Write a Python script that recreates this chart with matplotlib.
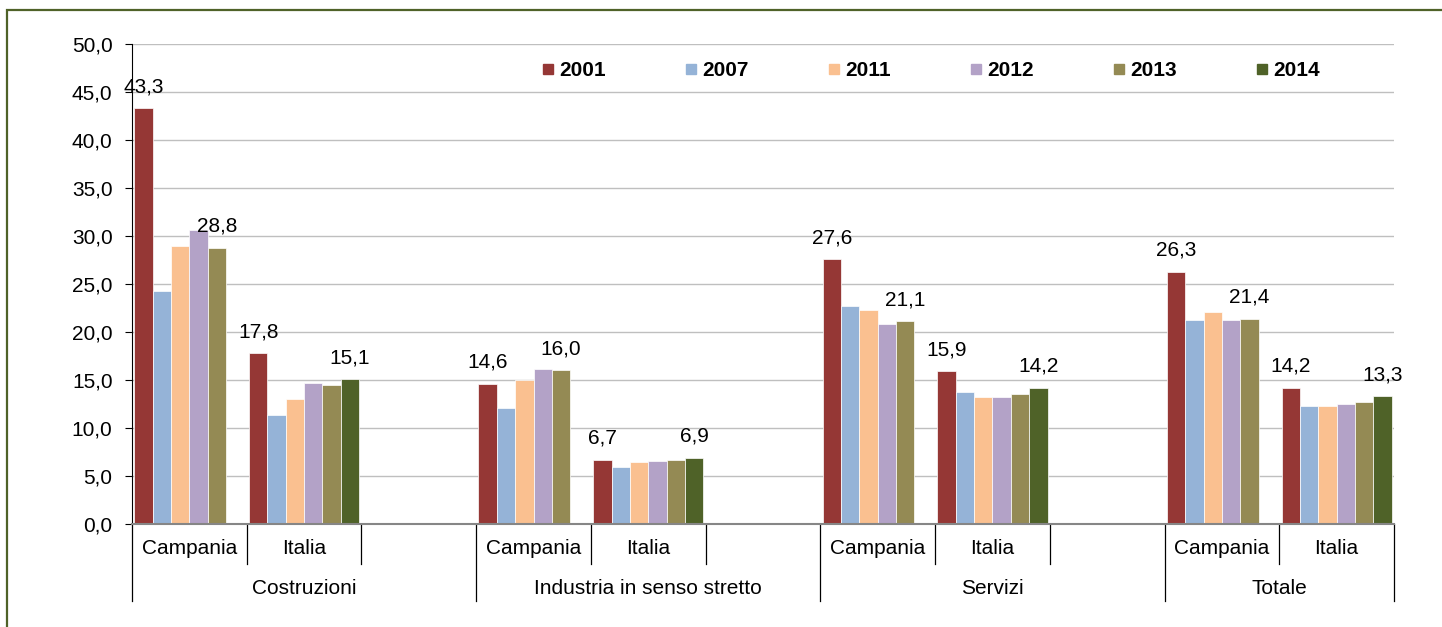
import matplotlib.pyplot as plt
import matplotlib.transforms as mtransforms
from matplotlib.lines import Line2D
from matplotlib.patches import Rectangle
import numpy as np

# === Dati ===
settori = ["Costruzioni", "Industria in senso stretto", "Servizi", "Totale"]
territori = ["Campania", "Italia"]
anni = ["2001", "2007", "2011", "2012", "2013", "2014"]
colori = ["#953735", "#95B3D7", "#FAC090", "#B3A2C7", "#948A54", "#4F6228"]

# ordine: Costruzioni (Campania, Italia), Industria (C, I), Servizi (C, I), Totale (C, I)
v2001 = [43.3, 17.8, 14.6, 6.7, 27.6, 15.9, 26.3, 14.2]
v2007 = [24.3, 11.4, 12.1, 5.9, 22.7, 13.8, 21.3, 12.3]
v2011 = [29.0, 13.0, 15.0, 6.5, 22.3, 13.2, 22.1, 12.3]
v2012 = [30.6, 14.7, 16.1, 6.6, 20.8, 13.2, 21.2, 12.5]
v2013 = [28.8, 14.5, 16.0, 6.7, 21.1, 13.5, 21.4, 12.7]
v2014 = [np.nan, 15.1, np.nan, 6.9, np.nan, 14.2, np.nan, 13.3]
serie = [v2001, v2007, v2011, v2012, v2013, v2014]

yticks = [0, 5, 10, 15, 20, 25, 30, 35, 40, 45, 50]

# === Figura ===
W, H = 1442, 627
fig = plt.figure(figsize=(W / 100, H / 100), dpi=100)
plt.rcParams['font.family'] = ['Liberation Sans', 'DejaVu Sans']
FS = 15

ax = fig.add_axes([132 / W, (H - 524) / H, 1262 / W, 480 / H])

# posizione slot: 3 per settore (Campania, Italia, vuoto), ultimo settore senza vuoto
slot = []
for g in range(len(settori)):
    for r in range(len(territori)):
        slot.append(3 * g + r)
slot = np.array(slot)

bw = 0.16
for j, (anno, vals) in enumerate(zip(anni, serie)):
    xs = slot + (j - 2.5) * bw
    ax.bar(xs, vals, width=bw, color=colori[j], edgecolor='white', linewidth=0.5,
           label=anno, zorder=3)

# etichette dati: 2001 sempre, ultimo anno disponibile
for k, s in enumerate(slot):
    ax.annotate(f"{v2001[k]:.1f}".replace(".", ","), (s - 2.5 * bw, v2001[k]),
                xytext=(0, 11.5), textcoords='offset points', ha='center',
                va='baseline', fontsize=FS, zorder=5)
    if k % 2 == 0:
        val, j = v2013[k], 4
    else:
        val, j = v2014[k], 5
    ax.annotate(f"{val:.1f}".replace(".", ","), (s + (j - 2.5) * bw, val),
                xytext=(0, 11.5), textcoords='offset points', ha='center',
                va='baseline', fontsize=FS, zorder=5)

ax.set_xlim(-0.5, 10.5)
ax.set_ylim(0, 50)
ax.set_yticks(yticks)
ax.set_yticklabels([f"{t:.1f}".replace(".", ",") for t in yticks], fontsize=FS)
ax.tick_params(axis='y', length=5, width=0.8, pad=9, direction='out')
ax.set_xticks([])
ax.yaxis.grid(True, color='#BFBFBF', linewidth=1.0, zorder=0)
ax.set_axisbelow(True)
for sp in ['top', 'right']:
    ax.spines[sp].set_visible(False)
ax.spines['left'].set_linewidth(0.8)
ax.spines['bottom'].set_color('#868686')
ax.spines['bottom'].set_linewidth(1.5)
ax.spines['bottom'].set_zorder(4)

# asse categorie a due livelli
trans = mtransforms.blended_transform_factory(ax.transData, ax.transAxes)
px = 1 / 480
for g in range(len(settori)):
    start = 3 * g - 0.5
    end = min(3 * g + 2.5, 10.5)
    ax.plot([start, start], [0, -77 * px], color='black', lw=0.9, transform=trans, clip_on=False)
    for b in [3 * g + 0.5, 3 * g + 1.5]:
        if b < 10.5:
            ax.plot([b, b], [0, -40 * px], color='black', lw=0.9, transform=trans, clip_on=False)
    for r, t in enumerate(territori):
        ax.text(3 * g + r, -25 * px, t, transform=trans, ha='center', va='center', fontsize=FS)
    ax.text((start + end) / 2, -64 * px, settori[g], transform=trans, ha='center', va='center', fontsize=FS)
ax.plot([10.5, 10.5], [0, -77 * px], color='black', lw=0.9, transform=trans, clip_on=False)

# legenda
handles = [Line2D([], [], marker='s', linestyle='', markersize=7.2, color=c) for c in colori]
leg = ax.legend(handles, anni, loc='center', bbox_to_anchor=(0.6335, 0.944), ncol=6,
                frameon=False, handlelength=0.5, handletextpad=0.28, columnspacing=3.85,
                borderpad=0, prop={'weight': 'bold', 'size': FS})

# cornice
fig.add_artist(Rectangle((7 / W, -0.1), 1.2, (H - 10) / H + 0.1, transform=fig.transFigure,
                         fill=False, edgecolor='#4F6228', linewidth=1.6))

fig.savefig("out.png", dpi=100)
